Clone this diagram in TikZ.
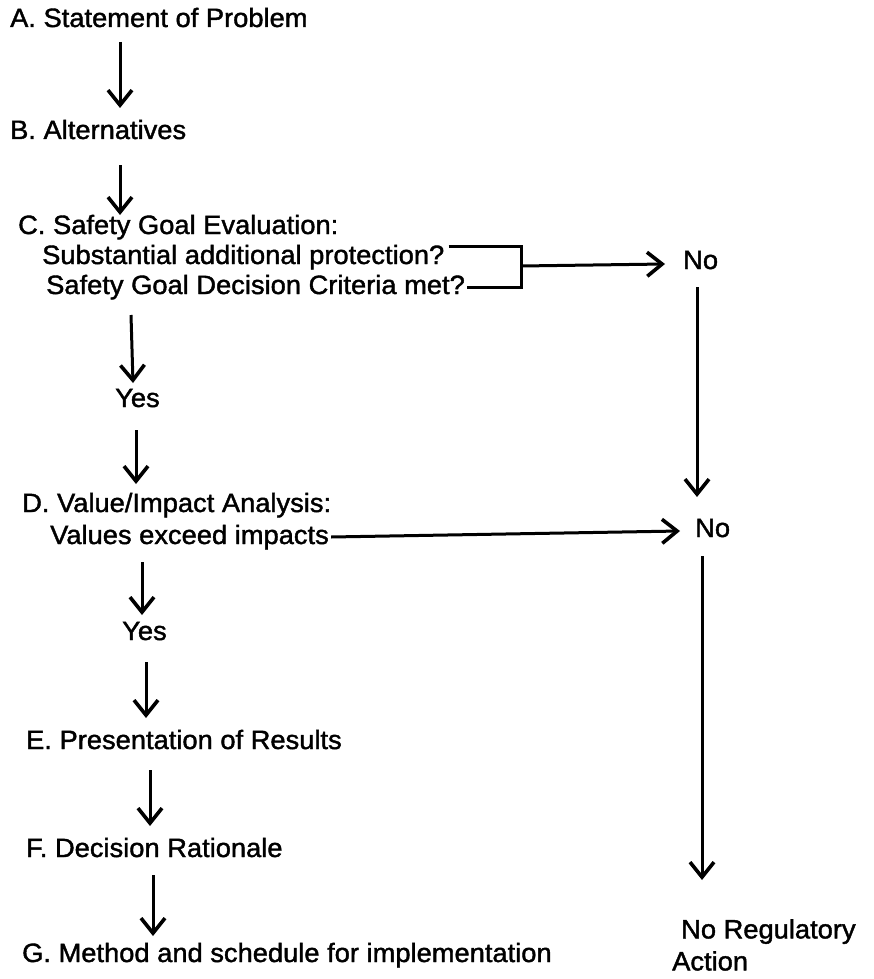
\documentclass[tikz,border=0pt]{standalone}
\usepackage{fontspec}
\setmainfont[FakeStretch=1.03,FakeBold=1.5]{Liberation Sans}
\usetikzlibrary{arrows.meta,calc}
\begin{document}
\begin{tikzpicture}[x=1pt,y=-1pt,
  txt/.style={anchor=west,inner sep=0pt,text height=19.5pt,text depth=5.5pt,font=\fontsize{26.5}{31}\selectfont},
  ln/.style={line width=3pt},
  arr/.style={line width=3pt,-{Straight Barb[length=15pt,width=24pt,line width=3.6pt]}}]
\useasboundingbox (0,0) rectangle (873,979);
\node[txt] (A) at (10,20) {A. Statement of Problem};
\node[txt] (B) at (10,132) {B. Alternatives};
\node[txt] (C1) at (18,227) {C. Safety Goal Evaluation:};
\node[txt] (C2) at (42,257) {Substantial additional protection?};
\node[txt] (C3) at (46,287) {Safety Goal Decision Criteria met?};
\node[txt] (N1) at (683,262) {No};
\node[txt] (Y1) at (115,400) {Yes};
\node[txt] (D1) at (22,505) {D. Value/Impact Analysis:};
\node[txt] (D2) at (50,537) {Values exceed impacts};
\node[txt] (N2) at (695,530) {No};
\node[txt] (Y2) at (122,633) {Yes};
\node[txt] (E) at (26,742) {E. Presentation of Results};
\node[txt] (F) at (26,850) {F. Decision Rationale};
\node[txt] (G) at (22,955) {G. Method and schedule for implementation};
\node[anchor=north west,inner sep=0pt,align=left,font=\fontsize{26.5}{32}\selectfont] (NR) at (672,919) {\hspace*{9pt}No Regulatory\\Action};
% main column
\draw[arr] ($(A.west)+(110,22)$) -- ($(B.west)+(110,-24)$);
\draw[arr] ($(B.west)+(110,33)$) -- ($(C1.west)+(102,-12)$);
\draw[arr] ($(C3.west)+(85,28)$) -- ($(Y1.west)+(18,-17)$);
\draw[arr] ($(Y1.west)+(21,30)$) -- ($(D1.west)+(114,-21)$);
\draw[arr] ($(D2.west)+(92,25)$) -- ($(Y2.west)+(20,-18)$);
\draw[arr] ($(Y2.west)+(24,29)$) -- ($(E.west)+(120,-24)$);
\draw[arr] ($(E.west)+(124,28)$) -- ($(F.west)+(124,-24)$);
\draw[arr] ($(F.west)+(127,25)$) -- ($(G.west)+(131,-19)$);
% bracket
\coordinate (brk) at (521,266);
\draw[ln] ($(C2.east)+(4,-11)$) -| (brk) |- ($(C3.east)+(2,0)$);
\draw[arr] (brk) -- ($(N1.west)+(-18,2)$);
% right column
\draw[arr] ($(N1.west)+(14,25)$) -- ($(N2.west)+(2,-33)$);
\draw[arr] ($(D2.east)+(2,0)$) -- ($(N2.west)+(-15,1)$);
\draw[arr] ($(N2.west)+(7,26)$) -- ($(NR.north west)+(30,-39)$);
\end{tikzpicture}
\end{document}
